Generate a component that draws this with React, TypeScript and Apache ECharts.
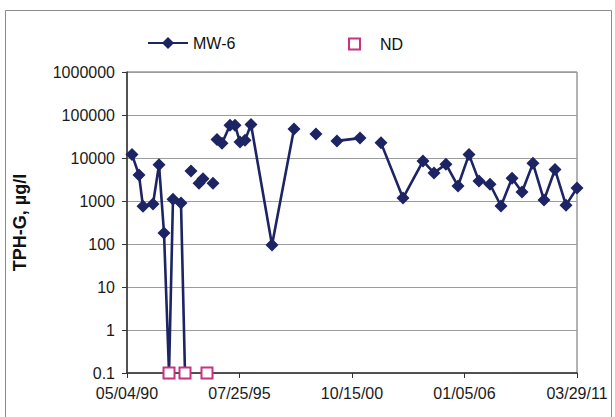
import React, { useEffect, useRef } from "react";
import * as echarts from "echarts";

// Sampling dates and TPH-G concentrations (µg/l) for MW-6; null = break in the line
const sampleDates: string[] = [
  "1990-07-28", "1990-11-24", "1991-01-30", "1991-07-19", "1991-10-29", "1992-01-22",
  "1992-04-16", "1992-06-22", "1992-11-05", "1993-01-12", "1993-03-01",
  "1993-04-24", "1993-06-01",
  "1993-09-06", "1993-11-13", "1994-01-20",
  "1994-05-02", "1994-06-01",
  "1994-07-09", "1994-10-02", "1995-02-14", "1995-05-10", "1995-08-03", "1995-10-27",
  "1996-02-06", "1997-01-27", "1998-02-04", "1998-08-01",
  "1999-02-11", "1999-08-01",
  "2000-02-03", "2001-02-28", "2001-08-01",
  "2002-02-19", "2003-02-27", "2004-02-01", "2004-08-06", "2005-02-25", "2005-09-17",
  "2006-03-23", "2006-09-08", "2007-03-14", "2007-09-17", "2008-03-22", "2008-09-07",
  "2009-03-12", "2009-09-15", "2010-03-21", "2010-09-23", "2011-03-29",
];
const mw6Values: (number | null)[] = [
  12000, 4000, 750, 850, 7000, 180,
  0.1, 1100, 900, 0.1, null,
  5000, null,
  2600, 3300, null,
  2600, null,
  27000, 22000, 58000, 58000, 23500, 26000,
  60000, 95, 47000, null,
  36000, null,
  25000, 29000, null,
  22500, 1170, 8500, 4500, 7200, 2230,
  12000, 2900, 2450, 765, 3400, 1620,
  7500, 1050, 5400, 800, 2000,
];
// Non-detect samples
const ndDates: string[] = ["1992-04-16", "1993-01-12", "1994-01-20"];
const ndValues: number[] = [0.1, 0.1, 0.1];

const xStart = "1990-05-04";
const xEnd = "2011-03-29";
const yTicks: number[] = [0.1, 1, 10, 100, 1000, 10000, 100000, 1000000];

const DAY = 86400000;
const toMs = (s: string) => {
  const [y, m, d] = s.split("-").map(Number);
  return Date.UTC(y, m - 1, d);
};
const startMs = toMs(xStart);
const offset = (s: string) => (toMs(s) - startMs) / DAY;
const span = offset(xEnd);
const pad = (n: number) => (n < 10 ? "0" + n : "" + n);
const fmtDate = (v: number) => {
  const d = new Date(startMs + Math.floor(v + 1e-6) * DAY);
  return `${pad(d.getUTCMonth() + 1)}/${pad(d.getUTCDate())}/${pad(d.getUTCFullYear() % 100)}`;
};

const FONT = 'Arial, "Liberation Sans", Helvetica, sans-serif';
const NAVY = "#1c2463";
const PINK = "#c8327e";

export default function App() {
  const ref = useRef<HTMLDivElement>(null);
  useEffect(() => {
    if (!ref.current) return;
    const chart = echarts.init(ref.current, undefined, { renderer: "svg" });
    const mwData = sampleDates.map((d, i) => [offset(d), mw6Values[i]]);
    const ndData = ndDates.map((d, i) => [offset(d), ndValues[i]]);
    chart.setOption({
      animation: false,
      backgroundColor: "#ffffff",
      textStyle: { fontFamily: FONT },
      graphic: [
        {
          type: "rect",
          shape: { x: 5.5, y: 10.5, width: 606, height: 420 },
          style: { fill: "none", stroke: "#8a8a8a", lineWidth: 1 },
          silent: true,
        },
      ],
      legend: [
        {
          data: ["MW-6"],
          left: 147,
          top: 35,
          padding: 0,
          itemWidth: 40,
          itemHeight: 15,
          textStyle: { fontSize: 16, color: "#111", fontFamily: FONT },
        },
        {
          data: ["ND"],
          left: 348,
          top: 36,
          padding: 0,
          itemWidth: 11,
          itemHeight: 11,
          textStyle: { fontSize: 16, color: "#111", fontFamily: FONT, padding: [0, 0, 0, 15] },
        },
      ],
      grid: {
        left: 127,
        top: 72,
        right: 38,
        bottom: 44,
        show: true,
        borderColor: "#666",
        borderWidth: 1,
      },
      xAxis: {
        type: "value",
        min: 0,
        max: span,
        interval: span / 4,
        axisLine: { show: true, onZero: false, lineStyle: { color: "#333", width: 1.5 } },
        axisTick: { show: true, length: 5, lineStyle: { color: "#333" } },
        splitLine: { show: false },
        axisLabel: {
          formatter: (v: number) => fmtDate(v),
          fontSize: 16,
          color: "#1a1a1a",
          margin: 12,
          fontFamily: FONT,
        },
      },
      yAxis: {
        type: "log",
        logBase: 10,
        min: yTicks[0],
        max: yTicks[yTicks.length - 1],
        name: "TPH-G, µg/l",
        nameLocation: "middle",
        nameRotate: 90,
        nameGap: 98,
        nameTextStyle: { fontSize: 18, fontWeight: "bold", color: "#111", fontFamily: FONT },
        axisLine: { show: true, lineStyle: { color: "#333", width: 1.5 } },
        axisTick: { show: true, length: 5, lineStyle: { color: "#333" } },
        splitLine: { show: true, lineStyle: { color: "#9c9c9c", width: 1 } },
        axisLabel: {
          formatter: (v: number) => String(Number(v.toPrecision(6))),
          fontSize: 16,
          color: "#1a1a1a",
          margin: 12,
          fontFamily: FONT,
        },
      },
      series: [
        {
          name: "MW-6",
          type: "line",
          data: mwData,
          connectNulls: false,
          clip: false,
          symbol: "diamond",
          symbolSize: 13,
          showAllSymbol: true,
          lineStyle: { color: NAVY, width: 2.6 },
          itemStyle: { color: NAVY },
          z: 3,
        },
        {
          name: "ND",
          type: "scatter",
          data: ndData,
          clip: false,
          symbol: "rect",
          symbolSize: 11,
          itemStyle: { color: "#ffffff", borderColor: PINK, borderWidth: 2, opacity: 1 },
          z: 5,
        },
      ],
    });
    return () => chart.dispose();
  }, []);
  return (
    <div
      ref={ref}
      style={{ position: "fixed", left: 0, top: 0, width: 615, height: 417, background: "#fff" }}
    />
  );
}
